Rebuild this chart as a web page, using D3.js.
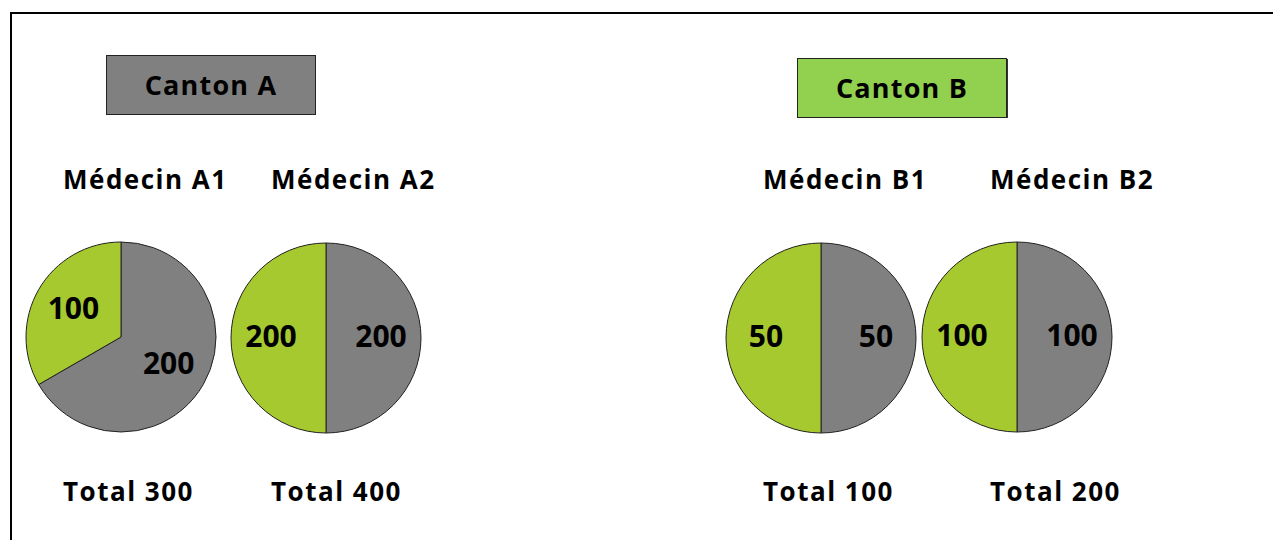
<!DOCTYPE html>
<html>
<head>
<meta charset="utf-8">
<script src="https://cdn.jsdelivr.net/npm/d3@7"></script>
<style>
  body { margin: 0; background: #fff; }
  text { font-family: "Open Sans", "DejaVu Sans", sans-serif; font-weight: bold; fill: #000; }
</style>
</head>
<body>
<svg id="chart" width="1273" height="540"></svg>
<script>
// data
var cantons = ["Canton A", "Canton B"];
var doctors = ["Médecin A1", "Médecin A2", "Médecin B1", "Médecin B2"];
var grayValues = [200, 200, 50, 100];
var greenValues = [100, 200, 50, 100];
var totals = [300, 400, 100, 200];

// layout
var pieCenters = [[121, 337], [326, 338], [821, 338], [1017, 337]];
var textLeft = [63, 271, 763, 990];
var cantonBoxes = [[106, 55], [797, 58]];
var cantonFill = ["#808080", "#92d050"];
var sliceFill = ["#808080", "#a5c92f"];
var radius = 95;

var svg = d3.select("#chart");

// frame
svg.append("line")
  .attr("x1", 11).attr("y1", 13).attr("x2", 1273).attr("y2", 13)
  .attr("stroke", "#000").attr("stroke-width", 2);
svg.append("line")
  .attr("x1", 11).attr("y1", 12).attr("x2", 11).attr("y2", 540)
  .attr("stroke", "#000").attr("stroke-width", 2);

// canton boxes
cantons.forEach(function(name, i) {
  var g = svg.append("g")
    .attr("transform", "translate(" + cantonBoxes[i][0] + "," + cantonBoxes[i][1] + ")");
  if (i == 1) {
    g.append("rect")
      .attr("x", 2).attr("y", 1).attr("width", 209).attr("height", 59)
      .attr("fill", "#333");
  }
  g.append("rect")
    .attr("x", 0.5).attr("y", 0.5).attr("width", 209).attr("height", 59)
    .attr("fill", cantonFill[i])
    .attr("stroke", "#222").attr("stroke-width", 1);
  g.append("text")
    .attr("x", 105).attr("y", 40)
    .attr("text-anchor", "middle")
    .style("font-size", "27px")
    .style("letter-spacing", "1.2px")
    .text(name);
});

var pie = d3.pie().sort(null);
var arc = d3.arc().innerRadius(0).outerRadius(radius);
var labelArc = d3.arc().innerRadius(55).outerRadius(55);

doctors.forEach(function(name, i) {
  svg.append("text")
    .attr("x", textLeft[i]).attr("y", 189)
    .style("font-size", "26px")
    .style("letter-spacing", "1.5px")
    .text(name);

  svg.append("text")
    .attr("x", textLeft[i]).attr("y", 501)
    .style("font-size", "26px")
    .style("letter-spacing", "1.5px")
    .text("Total " + totals[i]);

  var g = svg.append("g")
    .attr("transform", "translate(" + pieCenters[i][0] + "," + pieCenters[i][1] + ")");

  var slices = pie([grayValues[i], greenValues[i]]);

  g.selectAll("path")
    .data(slices)
    .enter().append("path")
    .attr("d", arc)
    .attr("fill", function(d, j) { return sliceFill[j]; })
    .attr("stroke", "#222")
    .attr("stroke-width", 1);

  g.selectAll("text")
    .data(slices)
    .enter().append("text")
    .attr("transform", function(d) { return "translate(" + labelArc.centroid(d) + ")"; })
    .attr("text-anchor", "middle")
    .attr("dy", "0.3em")
    .style("font-size", "30px")
    .text(function(d) { return d.value; });
});
</script>
</body>
</html>
